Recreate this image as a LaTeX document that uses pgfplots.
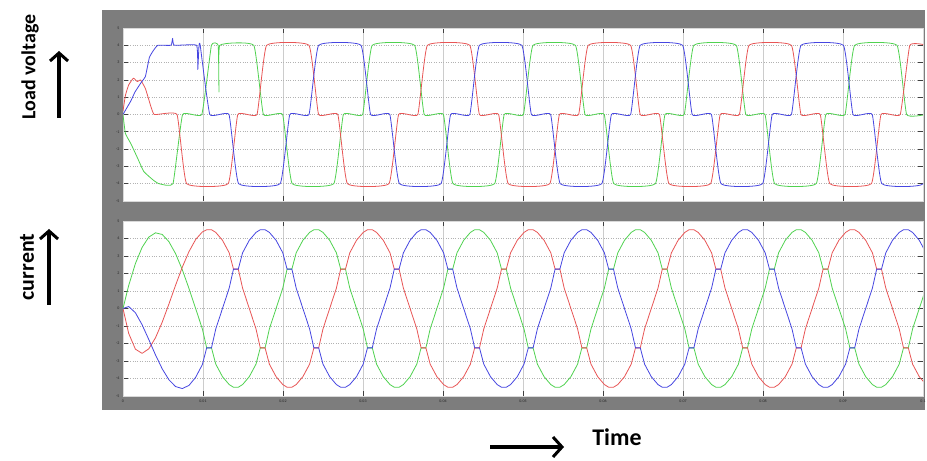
\documentclass[border=0pt]{standalone}
\usepackage{fontspec}
\setmainfont{Carlito}
\usepackage{pgfplots}
\usepackage{pgfplotstable}
\pgfplotsset{compat=1.18}
\usetikzlibrary{arrows.meta}
\definecolor{scopegray}{RGB}{125,125,125}
\definecolor{cred}{RGB}{232,85,85}
\definecolor{cgreen}{RGB}{80,210,80}
\definecolor{cblue}{RGB}{70,70,225}

% load voltage, blue phase (time in ms)
\pgfplotstableread{
t v
0 0
0.5 0.4
1.0 0.8
1.5 1.3
2.2 1.8
2.8 2.2
3.3 3.3
3.8 3.7
4.35 4.0
6.0 4.0
6.2 4.4
6.4 4.0
9.2 4.0
9.35 2.6
9.5 4.0
9.65 4
10.85 0
13.25 0
14.45 -4
19.65 -4
20.85 0
23.25 0
24.45 4
29.75 4
30.95 0
33.35 0
34.55 -4
39.75 -4
40.95 0
43.35 0
44.55 4
49.85 4
51.05 0
53.45 0
54.65 -4
59.85 -4
61.05 0
63.45 0
64.65 4
69.95 4
71.15 0
73.55 0
74.75 -4
79.95 -4
81.15 0
83.55 0
84.75 4
90.05 4
91.25 0
93.65 0
94.85 -4
100.05 -4
101.25 0
}\tabVb

% load voltage, green phase
\pgfplotstableread{
t v
0 0
0.3 -1.1
1.0 -1.7
1.8 -2.5
2.6 -3.3
3.8 -3.8
4.5 -4
6.25 -4
7.45 0
9.85 0
11.05 4
11.9 4
12.0 1.3
12.1 4
16.35 4
17.55 0
19.95 0
21.15 -4
26.35 -4
27.55 0
29.95 0
31.15 4
36.45 4
37.65 0
40.05 0
41.25 -4
46.45 -4
47.65 0
50.05 0
51.25 4
56.55 4
57.75 0
60.15 0
61.35 -4
66.55 -4
67.75 0
70.15 0
71.35 4
76.65 4
77.85 0
80.25 0
81.45 -4
86.65 -4
87.85 0
90.25 0
91.45 4
96.75 4
97.95 0
100.35 0
}\tabVg

% load voltage, red phase
\pgfplotstableread{
t v
0 0.2
0.3 1.1
0.7 1.7
1.3 2.1
1.8 1.9
2.2 2.0
2.8 1.5
3.2 0.9
3.9 0
6.75 0
7.95 -4
13.15 -4
14.35 0
16.75 0
17.95 4
23.25 4
24.45 0
26.85 0
28.05 -4
33.25 -4
34.45 0
36.85 0
38.05 4
43.35 4
44.55 0
46.95 0
48.15 -4
53.35 -4
54.55 0
56.95 0
58.15 4
63.45 4
64.65 0
67.05 0
68.25 -4
73.45 -4
74.65 0
77.05 0
78.25 4
83.55 4
84.75 0
87.15 0
88.35 -4
93.55 -4
94.75 0
97.15 0
98.35 4
100.5 4
}\tabVr

% load currents (time in ms): green, red, blue
\pgfplotstableread{
t g r b
0 0 0 0
0.710 1.311 -1.423 0.112
1.548 2.564 -2.323 -0.241
2.385 3.490 -2.565 -0.926
3.223 4.079 -2.305 -1.774
4.060 4.324 -1.674 -2.650
4.898 4.231 -0.786 -3.446
5.735 3.821 0.249 -4.070
6.573 3.132 1.329 -4.461
7.410 2.217 2.358 -4.575
8.248 1.143 3.253 -4.396
9.085 -0.014 3.944 -3.929
9.923 -1.170 4.377 -3.202
10.460 -2.25 4.5 -2.25
11.060 -2.25 4.5 -2.25
11.598 -3.182 4.347 -1.165
12.435 -3.897 3.897 0
13.273 -4.347 3.182 1.165
13.810 -4.5 2.25 2.25
14.410 -4.5 2.25 2.25
14.948 -4.347 1.165 3.182
15.785 -3.897 0 3.897
16.623 -3.182 -1.165 4.347
17.160 -2.25 -2.25 4.5
17.760 -2.25 -2.25 4.5
18.298 -1.165 -3.182 4.347
19.135 0 -3.897 3.897
19.973 1.165 -4.347 3.182
20.510 2.25 -4.5 2.25
21.110 2.25 -4.5 2.25
21.648 3.182 -4.347 1.165
22.485 3.897 -3.897 0
23.323 4.347 -3.182 -1.165
23.860 4.5 -2.25 -2.25
24.460 4.5 -2.25 -2.25
24.998 4.347 -1.165 -3.182
25.835 3.897 0 -3.897
26.673 3.182 1.165 -4.347
27.210 2.25 2.25 -4.5
27.810 2.25 2.25 -4.5
28.348 1.165 3.182 -4.347
29.185 0 3.897 -3.897
30.023 -1.165 4.347 -3.182
30.560 -2.25 4.5 -2.25
31.160 -2.25 4.5 -2.25
31.698 -3.182 4.347 -1.165
32.535 -3.897 3.897 0
33.373 -4.347 3.182 1.165
33.910 -4.5 2.25 2.25
34.510 -4.5 2.25 2.25
35.048 -4.347 1.165 3.182
35.885 -3.897 0 3.897
36.723 -3.182 -1.165 4.347
37.260 -2.25 -2.25 4.5
37.860 -2.25 -2.25 4.5
38.398 -1.165 -3.182 4.347
39.235 0 -3.897 3.897
40.073 1.165 -4.347 3.182
40.610 2.25 -4.5 2.25
41.210 2.25 -4.5 2.25
41.748 3.182 -4.347 1.165
42.585 3.897 -3.897 0
43.423 4.347 -3.182 -1.165
43.960 4.5 -2.25 -2.25
44.560 4.5 -2.25 -2.25
45.098 4.347 -1.165 -3.182
45.935 3.897 0 -3.897
46.773 3.182 1.165 -4.347
47.310 2.25 2.25 -4.5
47.910 2.25 2.25 -4.5
48.448 1.165 3.182 -4.347
49.285 0 3.897 -3.897
50.123 -1.165 4.347 -3.182
50.660 -2.25 4.5 -2.25
51.260 -2.25 4.5 -2.25
51.798 -3.182 4.347 -1.165
52.635 -3.897 3.897 0
53.473 -4.347 3.182 1.165
54.010 -4.5 2.25 2.25
54.610 -4.5 2.25 2.25
55.148 -4.347 1.165 3.182
55.985 -3.897 0 3.897
56.823 -3.182 -1.165 4.347
57.360 -2.25 -2.25 4.5
57.960 -2.25 -2.25 4.5
58.498 -1.165 -3.182 4.347
59.335 0 -3.897 3.897
60.173 1.165 -4.347 3.182
60.710 2.25 -4.5 2.25
61.310 2.25 -4.5 2.25
61.848 3.182 -4.347 1.165
62.685 3.897 -3.897 0
63.523 4.347 -3.182 -1.165
64.060 4.5 -2.25 -2.25
64.660 4.5 -2.25 -2.25
65.198 4.347 -1.165 -3.182
66.035 3.897 0 -3.897
66.873 3.182 1.165 -4.347
67.410 2.25 2.25 -4.5
68.010 2.25 2.25 -4.5
68.548 1.165 3.182 -4.347
69.385 0 3.897 -3.897
70.223 -1.165 4.347 -3.182
70.760 -2.25 4.5 -2.25
71.360 -2.25 4.5 -2.25
71.898 -3.182 4.347 -1.165
72.735 -3.897 3.897 0
73.573 -4.347 3.182 1.165
74.110 -4.5 2.25 2.25
74.710 -4.5 2.25 2.25
75.248 -4.347 1.165 3.182
76.085 -3.897 0 3.897
76.923 -3.182 -1.165 4.347
77.460 -2.25 -2.25 4.5
78.060 -2.25 -2.25 4.5
78.598 -1.165 -3.182 4.347
79.435 0 -3.897 3.897
80.273 1.165 -4.347 3.182
80.810 2.25 -4.5 2.25
81.410 2.25 -4.5 2.25
81.948 3.182 -4.347 1.165
82.785 3.897 -3.897 0
83.623 4.347 -3.182 -1.165
84.160 4.5 -2.25 -2.25
84.760 4.5 -2.25 -2.25
85.298 4.347 -1.165 -3.182
86.135 3.897 0 -3.897
86.973 3.182 1.165 -4.347
87.510 2.25 2.25 -4.5
88.110 2.25 2.25 -4.5
88.648 1.165 3.182 -4.347
89.485 0 3.897 -3.897
90.323 -1.165 4.347 -3.182
90.860 -2.25 4.5 -2.25
91.460 -2.25 4.5 -2.25
91.998 -3.182 4.347 -1.165
92.835 -3.897 3.897 0
93.673 -4.347 3.182 1.165
94.210 -4.5 2.25 2.25
94.810 -4.5 2.25 2.25
95.348 -4.347 1.165 3.182
96.185 -3.897 0 3.897
97.023 -3.182 -1.165 4.347
97.560 -2.25 -2.25 4.5
98.160 -2.25 -2.25 4.5
98.698 -1.165 -3.182 4.347
99.535 0 -3.897 3.897
100.373 1.165 -4.347 3.182
}\tabCur

\pgfplotsset{
  scopeaxis/.style={
    scale only axis, width=800bp,
    xmin=0, xmax=100, ymin=-5, ymax=5,
    xtick={0,10,...,100}, ytick={-5,-4,...,5},
    axis background/.style={fill=white},
    axis line style={draw=gray!30, line width=0.4pt},
    tick align=inside, major tick length=5bp,
    tick style={black!75, line width=0.6pt},
    xmajorgrids, ymajorgrids,
    x grid style={gray!40, line width=0.4pt},
    y grid style={gray!60, dotted, line width=0.6pt},
    yticklabel style={font=\fontsize{4}{4}\selectfont, text=black!85},
    xticklabel style={font=\fontsize{4}{4}\selectfont, text=black!85},
    yticklabels={-5,-4,-3,-2,-1,0,1,2,3,4,5},
    every axis plot/.append style={no markers, line width=0.8bp, line join=round},
  }
}

\begin{document}
\begin{tikzpicture}[x=1bp,y=1bp]
\useasboundingbox (0,0) rectangle (927,461);
\fill[scopegray] (102,51) rectangle (925,451);

\begin{axis}[scopeaxis, at={(123bp,260bp)}, anchor=south west, height=173bp,
  xticklabels={}]
\addplot[cgreen, smooth, tension=0.2] table[x=t,y=v]{\tabVg};
\addplot[cred, smooth, tension=0.2] table[x=t,y=v]{\tabVr};
\addplot[cblue, smooth, tension=0.2] table[x=t,y=v]{\tabVb};
\end{axis}

\begin{axis}[scopeaxis, at={(123bp,65bp)}, anchor=south west, height=175bp,
  xticklabels={0,0.01,0.02,0.03,0.04,0.05,0.06,0.07,0.08,0.09,0.1}]
\addplot[cgreen] table[x=t,y=g]{\tabCur};
\addplot[cred] table[x=t,y=r]{\tabCur};
\addplot[cblue] table[x=t,y=b]{\tabCur};
\end{axis}

\node[rotate=90, font=\bfseries\fontsize{20}{20}\selectfont] at (30,394) {Load voltage};
\draw[line width=3.6bp, -{Straight Barb[length=8bp,width=18bp,line width=3bp]}] (59,343) -- (59,410);
\node[rotate=90, font=\bfseries\fontsize{22}{22}\selectfont] at (27,194) {current};
\draw[line width=3.6bp, -{Straight Barb[length=8bp,width=18bp,line width=3bp]}] (49,156) -- (49,232);
\node[font=\bfseries\fontsize{24}{24}\selectfont] at (617,24) {Time};
\draw[line width=3.6bp, -{Straight Barb[length=9bp,width=20bp,line width=3bp]}] (490,14) -- (564,14);
\end{tikzpicture}
\end{document}
